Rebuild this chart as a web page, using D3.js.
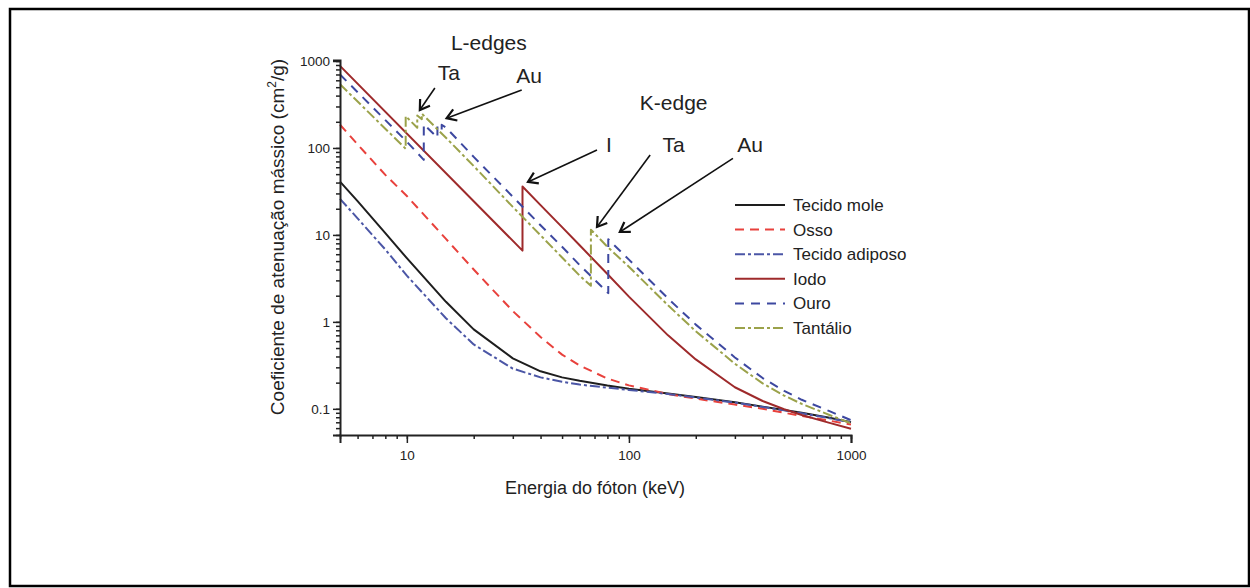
<!DOCTYPE html>
<html>
<head>
<meta charset="utf-8">
<script src="https://cdn.jsdelivr.net/npm/d3@7"></script>
<style>
  body { margin: 0; background: #fff; }
  svg text { font-family: Arial, "Liberation Sans", sans-serif; fill: #222; }
</style>
</head>
<body>
<svg id="chart" width="1250" height="588"></svg>
<script>
// Energies (keV) and mass attenuation (cm2/g)
var tecidoMoleE = [5, 6, 8, 10, 15, 20, 30, 40, 50, 60, 80, 100, 150, 200, 300, 400, 500, 600, 800, 1000];
var tecidoMoleV = [41, 24.5, 10.5, 5.4, 1.7, 0.82, 0.38, 0.27, 0.23, 0.21, 0.185, 0.17, 0.15, 0.137, 0.119, 0.106, 0.097, 0.09, 0.079, 0.07];

var ossoE = [5, 6, 8, 10, 15, 20, 30, 40, 50, 60, 80, 100, 150, 200, 300, 400, 500, 600, 800, 1000];
var ossoV = [185, 110, 49, 28, 9, 4.0, 1.33, 0.67, 0.42, 0.315, 0.223, 0.186, 0.148, 0.131, 0.112, 0.1, 0.09, 0.083, 0.073, 0.066];

var adiposoE = [5, 6, 8, 10, 15, 20, 30, 40, 50, 60, 80, 100, 150, 200, 300, 400, 500, 600, 800, 1000];
var adiposoV = [26, 15.5, 6.8, 3.4, 1.1, 0.55, 0.29, 0.23, 0.205, 0.19, 0.175, 0.165, 0.148, 0.135, 0.118, 0.105, 0.096, 0.089, 0.078, 0.07];

var iodoE = [5, 33.17, 33.17, 40, 50, 60, 80, 100, 150, 200, 300, 400, 500, 600, 800, 1000];
var iodoV = [880, 6.6, 36, 22, 12.3, 7.6, 3.55, 1.95, 0.70, 0.37, 0.177, 0.123, 0.099, 0.085, 0.069, 0.059];

var ouroE = [5, 10, 11.92, 11.92, 13.73, 13.73, 14.35, 14.35, 15, 20, 30, 40, 50, 60, 80.72, 80.72, 100, 150, 200, 300, 400, 500, 600, 800, 1000];
var ouroV = [700, 118, 73, 187, 132, 178, 160, 185, 172, 79, 27.5, 12.9, 7.3, 4.5, 2.14, 8.9, 5.2, 1.86, 0.93, 0.39, 0.226, 0.161, 0.127, 0.094, 0.074];

var tantalioE = [5, 9.88, 9.88, 11.14, 11.14, 11.68, 11.68, 15, 20, 30, 40, 50, 60, 67.42, 67.42, 80, 100, 150, 200, 300, 400, 500, 600, 800, 1000];
var tantalioV = [540, 98, 232, 171, 236, 214, 248, 131, 62, 21, 9.9, 5.5, 3.4, 2.6, 11.5, 7.3, 4.3, 1.55, 0.78, 0.33, 0.196, 0.142, 0.114, 0.085, 0.068];

var seriesNames = ["Tecido mole", "Osso", "Tecido adiposo", "Iodo", "Ouro", "Tantálio"];
var xTickLabels = [10, 100, 1000];
var yTickLabels = [0.1, 1, 10, 100, 1000];

// Annotations: label text, label position and arrow head/tail, all in data units
var edgeTitles = [
  {text: "L-edges", e: 23.4, v: 1337},
  {text: "K-edge", e: 159, v: 272}
];
var edgeLabels = [
  {text: "Ta", e: 15.46, v: 604, tail: [13.37, 490], head: [11.44, 273]},
  {text: "Au", e: 35.5, v: 556, tail: [32.9, 464], head: [15.1, 220]},
  {text: "I", e: 81.2, v: 90, tail: [71.8, 94.6], head: [35.1, 40.7]},
  {text: "Ta", e: 159, v: 90, tail: [124.6, 83], head: [71.8, 12.35]},
  {text: "Au", e: 351, v: 90, tail: [294, 76], head: [91, 10.8]}
];

var styles = [
  {color: "#1e1e1e", dash: null, width: 2},
  {color: "#e8413c", dash: "9,6", width: 2},
  {color: "#4b56a6", dash: "10,3,3,3", width: 2},
  {color: "#9e2a2b", dash: null, width: 2},
  {color: "#3d48a0", dash: "9,7", width: 2},
  {color: "#9ba24a", dash: "10,3,3,3", width: 2}
];

var svg = d3.select("#chart");

//Frame around the figure
svg.append("rect")
  .attr("x", 10).attr("y", 9)
  .attr("width", 1239).attr("height", 577)
  .attr("fill", "none")
  .attr("stroke", "#000")
  .attr("stroke-width", 2.5);

var x = d3.scaleLog().domain([5, 1000]).range([340, 851]);
var y = d3.scaleLog().domain([0.05, 1027]).range([435, 60]);

var series = [
  d3.zip(tecidoMoleE, tecidoMoleV),
  d3.zip(ossoE, ossoV),
  d3.zip(adiposoE, adiposoV),
  d3.zip(iodoE, iodoV),
  d3.zip(ouroE, ouroV),
  d3.zip(tantalioE, tantalioV)
];

var line = d3.line()
  .x(function(d){ return x(d[0]); })
  .y(function(d){ return y(d[1]); });

var plot = svg.append("g");
series.forEach(function(s, i){
  plot.append("path")
    .attr("d", line(s))
    .attr("fill", "none")
    .attr("stroke", styles[i].color)
    .attr("stroke-width", styles[i].width)
    .attr("stroke-dasharray", styles[i].dash)
    .attr("stroke-linejoin", "round");
});

//Axes: major ticks with labels, minor ticks without
var xAxisG = svg.append("g").attr("transform", "translate(0,435)");
xAxisG.call(d3.axisBottom(x).tickValues(x.ticks()).tickSize(4).tickFormat(""));
xAxisG.append("g").call(d3.axisBottom(x).tickValues(xTickLabels).tickSize(8).tickFormat(d3.format("d")));

var yAxisG = svg.append("g").attr("transform", "translate(340,0)");
yAxisG.call(d3.axisLeft(y).tickValues(y.ticks()).tickSize(4).tickFormat(""));
yAxisG.append("g").call(d3.axisLeft(y).tickValues(yTickLabels).tickSize(7).tickFormat(function(d){ return String(d); }));

svg.selectAll(".domain").attr("stroke", "#222").attr("stroke-width", 2);
svg.selectAll(".tick line").attr("stroke", "#222").attr("stroke-width", 1.5);
svg.selectAll(".tick text").attr("font-size", 13.5).attr("fill", "#222");
xAxisG.selectAll(".tick text").attr("dy", "1.0em");

// the minor axis draws its own domain too; the one underneath is enough
xAxisG.select("g .domain").remove();
yAxisG.select("g .domain").remove();

svg.append("text")
  .attr("x", 595).attr("y", 494)
  .attr("text-anchor", "middle")
  .attr("font-size", 18)
  .text("Energia do fóton (keV)");

var yl = svg.append("text")
  .attr("transform", "translate(284,237) rotate(-90)")
  .attr("text-anchor", "middle")
  .attr("font-size", 19);
yl.append("tspan").text("Coeficiente de atenuação mássico (cm");
yl.append("tspan").attr("font-size", 12).attr("dy", -8).text("2");
yl.append("tspan").attr("dy", 8).text("/g)");

//Legend
var legend = svg.append("g").attr("transform", "translate(735,205)");
seriesNames.forEach(function(name, i){
  var row = legend.append("g").attr("transform", "translate(0," + (i * 24.6) + ")");
  row.append("line")
    .attr("x1", 0).attr("x2", 50)
    .attr("stroke", styles[i].color)
    .attr("stroke-width", 2)
    .attr("stroke-dasharray", styles[i].dash);
  row.append("text")
    .attr("x", 58).attr("y", 6)
    .attr("font-size", 17)
    .text(name);
});

//Edge annotations
edgeTitles.forEach(function(t){
  svg.append("text")
    .attr("x", x(t.e)).attr("y", y(t.v))
    .attr("text-anchor", "middle")
    .attr("font-size", 21)
    .text(t.text);
});

edgeLabels.forEach(function(a){
  svg.append("text")
    .attr("x", x(a.e)).attr("y", y(a.v))
    .attr("text-anchor", "middle")
    .attr("font-size", 21)
    .text(a.text);

  var x1 = x(a.tail[0]), y1 = y(a.tail[1]);
  var x2 = x(a.head[0]), y2 = y(a.head[1]);
  var ang = Math.atan2(y2 - y1, x2 - x1);
  var len = 11, spread = Math.PI / 5.5;
  svg.append("line")
    .attr("x1", x1).attr("y1", y1).attr("x2", x2).attr("y2", y2)
    .attr("stroke", "#111").attr("stroke-width", 1.6);
  svg.append("path")
    .attr("d", "M" + (x2 - len * Math.cos(ang - spread)) + "," + (y2 - len * Math.sin(ang - spread)) +
      "L" + x2 + "," + y2 +
      "L" + (x2 - len * Math.cos(ang + spread)) + "," + (y2 - len * Math.sin(ang + spread)))
    .attr("fill", "none")
    .attr("stroke", "#111")
    .attr("stroke-width", 2.2);
});
</script>
</body>
</html>
